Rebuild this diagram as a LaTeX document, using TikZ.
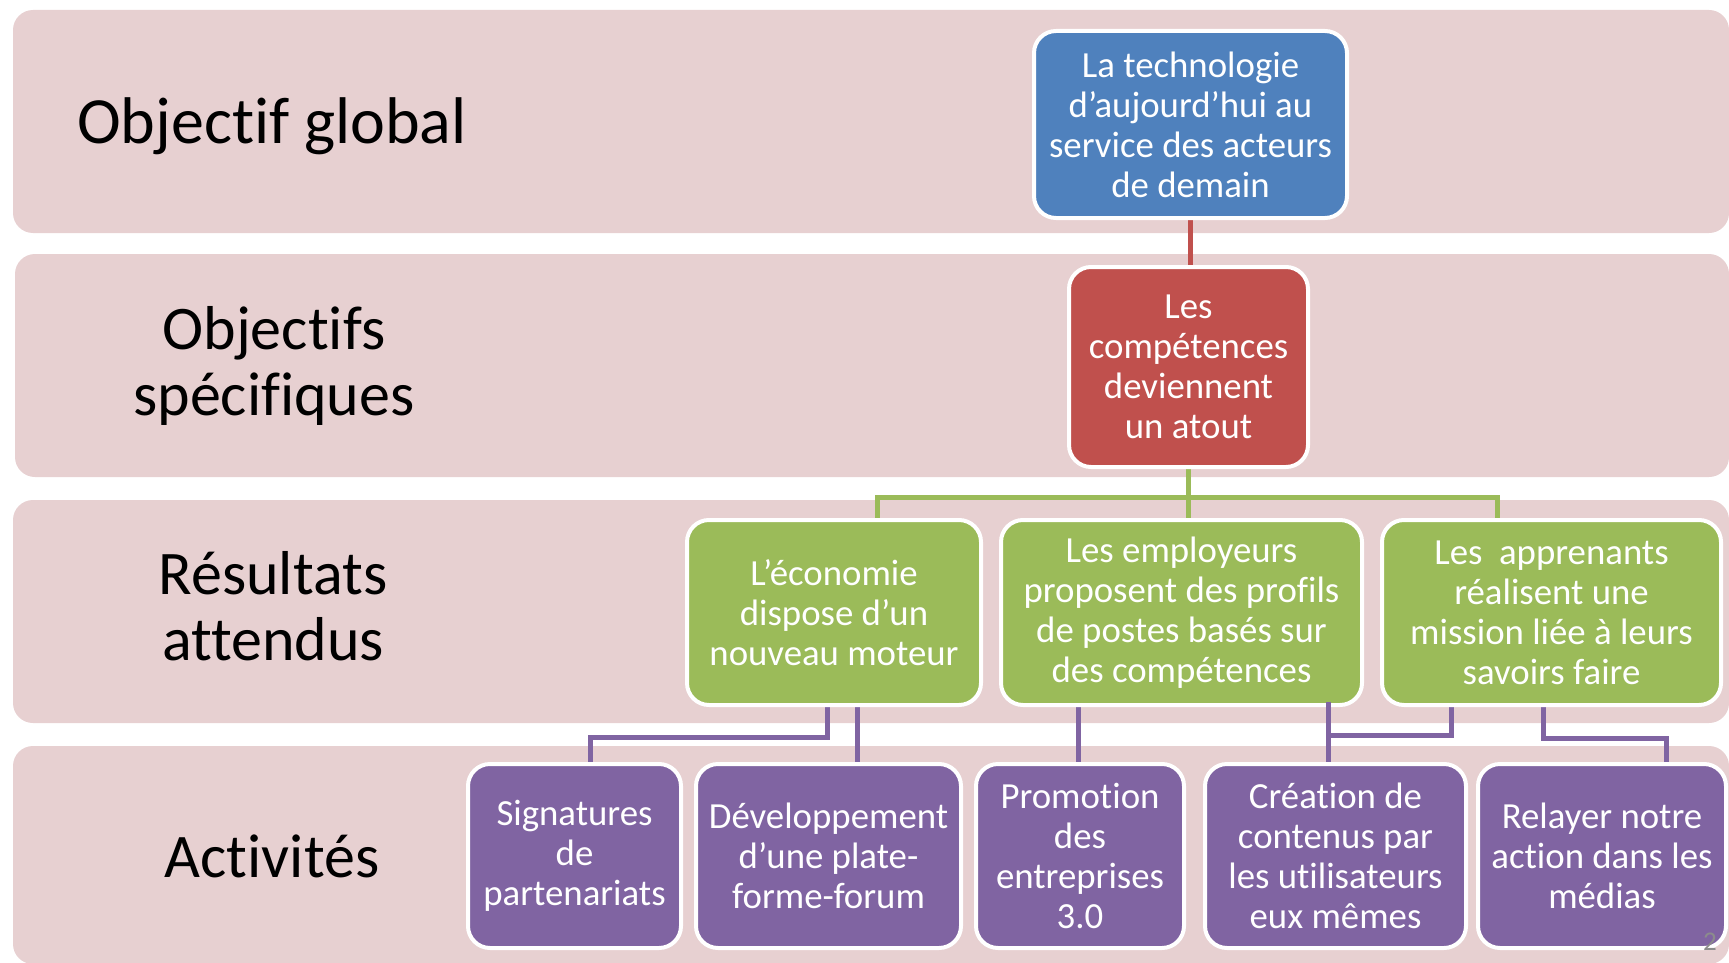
\documentclass[tikz,border=0pt]{standalone}
\usepackage{fontspec}
\setmainfont{Carlito}[Ligatures=NoCommon]
\definecolor{bandc}{RGB}{231,208,209}
\definecolor{blueb}{HTML}{4F81BD}
\definecolor{redb}{HTML}{C0504D}
\definecolor{greenb}{HTML}{9BBB59}
\definecolor{purpb}{HTML}{8064A2}
\definecolor{numc}{HTML}{8C8C8C}
\pgfdeclarelayer{bands}
\pgfdeclarelayer{links}
\pgfsetlayers{bands,links,main}
\begin{document}
\begin{tikzpicture}[x=0.5pt,y=-0.5pt,
  band/.style={fill=bandc, rounded corners=10pt},
  box/.style={draw=white, line width=2pt, rounded corners=11pt, inner sep=0pt,
    align=center, text=white, font=\fontsize{18.4}{20}\selectfont},
  bluebox/.style={box, fill=blueb},
  redbox/.style={box, fill=redb},
  greenbox/.style={box, fill=greenb, minimum height=92.5pt},
  purpbox/.style={box, fill=purpb, minimum height=92pt},
  lbl/.style={align=center, inner sep=0pt, text=black, font=\fontsize{31}{33}\selectfont},
  biglbl/.style={lbl, font=\fontsize{33}{34}\selectfont},
  rlink/.style={draw=redb, line width=2.5pt},
  glink/.style={draw=greenb, line width=2.5pt},
  plink/.style={draw=purpb, line width=2.5pt}]
\useasboundingbox (0,0) rectangle (1729,963);

\begin{pgfonlayer}{bands}
  \fill[band] (13,10) rectangle (1729,233);
  \fill[band] (15,254) rectangle (1729,477);
  \fill[band] (13,500) rectangle (1729,723);
  \fill[band] (13,746) rectangle (1729,964);
\end{pgfonlayer}

% row labels
\node[biglbl, anchor=base] (l1) at (272,143) {Objectif global};
\node[lbl] (l2) at (274,366) {Objectifs\\spécifiques};
\node[lbl] (l3) at (273,606) {Résultats\\attendus};
\node[lbl, anchor=base] (l4) at (272,877) {Activités};

% boxes
\node[bluebox, minimum width=156.5pt, minimum height=93.5pt] (blue) at (1190.5,124.5)
  {La technologie\\d’aujourd’hui au\\service des acteurs\\de demain};
\node[redbox, minimum width=119.5pt, minimum height=100pt] (red) at (1188.5,367)
  {Les\\compétences\\deviennent\\un atout};

\node[greenbox, minimum width=147pt] (g1) at (834,612.5)
  {L’économie\\dispose d’un\\nouveau moteur};
\node[greenbox, minimum width=180.5pt] (g2) at (1181.5,612.5)
  {Les employeurs\\proposent des profils\\de postes basés sur\\des compétences};
\node[greenbox, minimum width=169.5pt] (g3) at (1551.5,612.5)
  {Les\ \ apprenants\\réalisent une\\mission liée à leurs\\savoirs faire};

\node[purpbox, minimum width=106.5pt] (p1) at (574.5,856)
  {Signatures\\de\\partenariats};
\node[purpbox, minimum width=132.5pt] (p2) at (828.5,856)
  {Développement\\d’une plate-\\forme-forum};
\node[purpbox, minimum width=104pt] (p3) at (1080,856)
  {Promotion\\des\\entreprises\\3.0};
\node[purpbox, minimum width=130.5pt] (p4) at (1335.5,856)
  {Création de\\contenus par\\les utilisateurs\\eux mêmes};
\node[purpbox, minimum width=124pt] (p5) at (1602,856)
  {Relayer notre\\action dans les\\médias};

\node[anchor=base, inner sep=0pt, text=numc, font=\fontsize{13.5}{14}\selectfont] (num) at (1710,950) {2};

% connectors
\coordinate (gL) at (877,497);
\coordinate (gR) at (1497,497);
\coordinate (a1) at (827,737);
\coordinate (a2) at (590,737);
\coordinate (a3) at (857,737);
\coordinate (a4) at (1078,737);
\coordinate (a5) at (1328,735);
\coordinate (a6) at (1451,735);
\coordinate (a7) at (1543,738);
\coordinate (a8) at (1666,738);

\begin{pgfonlayer}{links}
  \draw[rlink] (blue.south) -- (blue.south |- red.north);
  \draw[glink] (red.south) -- (red.south |- g2.north);
  \draw[glink] (g1.north -| gL) -- (gL) -- (gR) -- (g3.north -| gR);
  \draw[plink] (g1.south -| a1) -- (a1) -- (a2) -- (p1.north -| a2);
  \draw[plink] (g1.south -| a3) -- (p2.north -| a3);
  \draw[plink] (g2.south -| a4) -- (p3.north -| a4);
  \draw[plink] (g3.south -| a6) -- (a6) -- (a5);
  \draw[plink] (g3.south -| a7) -- (a7) -- (a8) -- (p5.north -| a8);
\end{pgfonlayer}
\draw[plink] ([yshift=2.5pt]g2.south -| a5) -- (p4.north -| a5);
\end{tikzpicture}
\end{document}
